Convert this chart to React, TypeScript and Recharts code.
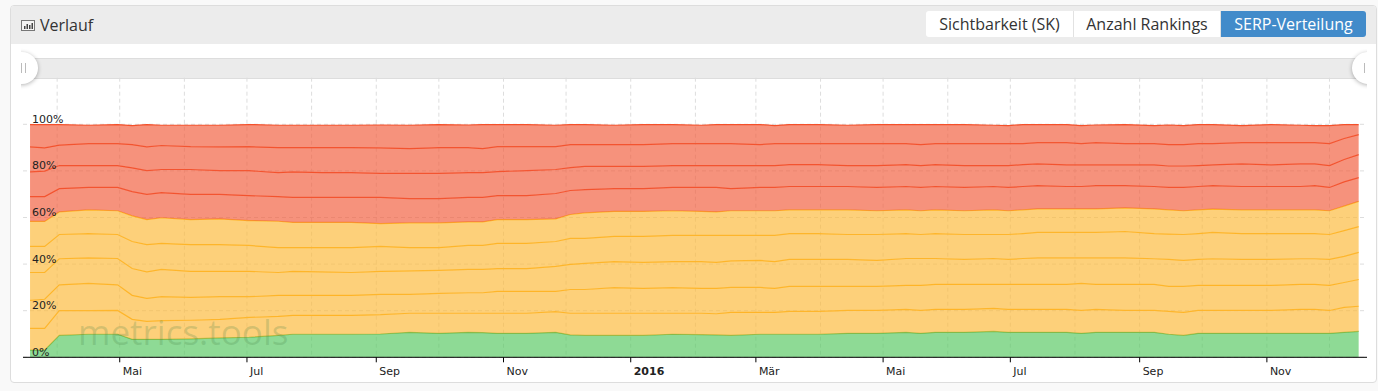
import { AreaChart, Area, XAxis, YAxis, CartesianGrid } from 'recharts';

const dates = [
  '2015-03-19', '2015-03-26', '2015-04-02', '2015-04-16', '2015-04-30', '2015-05-07', '2015-05-14', '2015-05-21',
  '2015-06-04', '2015-06-18', '2015-07-02', '2015-07-16', '2015-07-23', '2015-08-06', '2015-08-20', '2015-09-03',
  '2015-09-17', '2015-10-01', '2015-10-15', '2015-10-22', '2015-10-29', '2015-11-12', '2015-11-26', '2015-12-03',
  '2015-12-10', '2015-12-24', '2016-01-07', '2016-01-21', '2016-02-04', '2016-02-11', '2016-02-18', '2016-03-03',
  '2016-03-10', '2016-03-17', '2016-03-31', '2016-04-14', '2016-04-28', '2016-05-12', '2016-05-19', '2016-05-26',
  '2016-06-09', '2016-06-23', '2016-06-30', '2016-07-07', '2016-07-14', '2016-07-28', '2016-08-04', '2016-08-11',
  '2016-08-25', '2016-09-08', '2016-09-15', '2016-09-22', '2016-09-29', '2016-10-06', '2016-10-20', '2016-11-03',
  '2016-11-17', '2016-11-24', '2016-12-01', '2016-12-08', '2016-12-15',
];

// upper edge of each band, in percent
const edge1 = [
  3.1, 3.1, 9.4, 9.9, 9.9, 7.7, 7.7, 7.7, 7.9, 8.3, 8.6, 9.4, 9.9, 9.9, 9.9, 10,
  10.7, 10.3, 10.7, 10.6, 10.3, 10.3, 10.7, 9.6, 9.4, 9.4, 9.4, 9.9, 9.7, 9.6, 9.4, 9.9,
  9.9, 9.9, 9.9, 10.3, 10.3, 10.7, 10.3, 10.7, 10.7, 11.1, 10.7, 10.7, 10.7, 10.7, 10.3, 10.7,
  10.7, 10.7, 9.9, 9.4, 10.3, 10.3, 10.3, 10.3, 10.3, 10.3, 10.3, 10.7, 11.1,
];
const edge2 = [
  12.4, 12.4, 20, 20, 20.1, 16.3, 15.4, 15.7, 15.9, 16.3, 17.1, 17.6, 18, 18, 18, 18.3,
  18.9, 18.9, 18.9, 18.9, 18.9, 18.9, 19.6, 18.9, 18.9, 18.9, 18.9, 18.9, 18.9, 18.7, 19.3, 19.3,
  19.3, 19.7, 19.7, 20.1, 20.1, 20.6, 20.1, 20.6, 20.6, 21, 20.6, 20.6, 20.6, 20.6, 20.1, 20.6,
  20.1, 20.1, 19.7, 19.3, 20.1, 20.1, 20.1, 20.1, 20.6, 20.6, 20.1, 21.4, 21.9,
];
const edge3 = [
  24.4, 24.9, 31.1, 31.7, 31.1, 26.6, 25.3, 26, 25.7, 26, 26, 26.6, 26.6, 26.6, 26.6, 27,
  27, 27.4, 27.7, 27.7, 28.3, 28.3, 28.3, 29.1, 29.1, 29.9, 29.6, 29.9, 29.6, 29.6, 30, 30,
  29.6, 30.4, 30.4, 30.4, 30.4, 30.9, 30.9, 31.3, 31.3, 31.3, 31.3, 31.3, 31.3, 31.3, 31.7, 31.3,
  31.3, 31.3, 30.4, 30.4, 30.9, 30.9, 30.9, 30.9, 31.3, 31.3, 30.9, 32.1, 33.4,
];
const edge4 = [
  36.4, 36.4, 42.3, 42.7, 42.4, 38.1, 36.7, 37.7, 36.9, 36.9, 36.9, 36.4, 36.9, 36.7, 36.4, 36.9,
  37.1, 37.3, 37.7, 37.7, 38.1, 38.1, 39, 39.9, 40.3, 41.1, 40.7, 41.1, 41.1, 40.7, 41.4, 41.6,
  41.1, 42, 42, 42, 41.6, 42.4, 42.4, 42.4, 42, 42.4, 42, 42.4, 42.7, 42.7, 42.7, 42.7,
  42.7, 42.3, 42, 41.6, 42, 42.3, 42, 42, 42.3, 42.3, 42, 43.3, 45,
];
const edge5 = [
  47.6, 47.6, 52.7, 53.1, 52.7, 49.7, 48.4, 48.9, 48.4, 48.4, 48, 47.1, 47.1, 47.1, 47.1, 47.6,
  47.1, 47.1, 48, 48, 48.9, 48.9, 49.7, 51, 51, 51.9, 51.9, 52.3, 52.3, 52.3, 52.3, 52.3,
  52.3, 53.1, 53.1, 52.7, 52.7, 53.1, 52.7, 53.1, 52.7, 52.7, 52.7, 53.1, 53.6, 53.6, 53.6, 53.6,
  54, 53.1, 52.9, 52.7, 53.1, 53.6, 53.1, 53.1, 53.1, 53.1, 52.7, 54.4, 56.1,
];
const edge6 = [
  58.3, 58.3, 62.4, 63.3, 62.9, 60.7, 59.1, 59.9, 59.1, 59.4, 58.7, 58.4, 57.9, 57.9, 57.9, 57.4,
  57.7, 57.7, 58.1, 58.1, 59.1, 59.1, 59.4, 61.3, 62, 62.6, 62.6, 62.9, 62.6, 62.4, 62.9, 62.9,
  62.9, 63.3, 63.3, 63.3, 62.9, 63.3, 62.9, 63.3, 62.9, 63.3, 62.9, 63.3, 63.7, 63.7, 63.7, 63.7,
  64.1, 63.7, 63.3, 62.9, 63.3, 63.6, 63.3, 63.3, 63.3, 63.3, 62.9, 64.9, 66.9,
];
const edge7 = [
  69, 69, 72.4, 72.9, 72.9, 71.1, 69.9, 70.7, 69.9, 69.9, 69.4, 69, 68.6, 68.6, 68.6, 68.6,
  68.1, 68.1, 68.6, 68.6, 69.4, 69.4, 70.3, 71.6, 72, 72.4, 72.4, 72.9, 72.9, 72.9, 72.4, 72.9,
  72.9, 73.3, 73.3, 73.3, 72.9, 73.3, 72.9, 73.3, 72.9, 73.3, 72.9, 73.3, 73.7, 73.3, 73.3, 73.7,
  73.7, 73.3, 72.9, 72.9, 73.3, 73.7, 73.3, 73.3, 73.3, 73.7, 72.9, 75.3, 77.1,
];
const edge8 = [
  79.6, 79.9, 82.3, 82.3, 82.3, 81.3, 80.1, 80.6, 80.6, 80.1, 80.1, 79.3, 79.6, 79.3, 79.3, 78.9,
  78.9, 78.9, 79.3, 79.3, 79.7, 80.1, 80.6, 81.4, 81.9, 81.9, 81.9, 82.3, 82.3, 82.3, 82.3, 82.3,
  82.3, 82.7, 82.7, 82.3, 82.3, 82.7, 82.3, 82.7, 82.3, 82.3, 82.3, 82.7, 83, 82.6, 82.6, 82.6,
  82.6, 82.6, 82.1, 82.1, 82.3, 82.6, 83, 82.6, 83, 83, 82.3, 84.9, 87,
];
const edge9 = [
  90.3, 89.9, 91.1, 91.7, 91.7, 91.3, 90.3, 90.9, 90.4, 90.3, 90.4, 90, 90, 90, 90, 89.9,
  89.6, 90, 90, 89.6, 90.4, 90.4, 90.4, 91.3, 91.3, 91.3, 91.3, 91.7, 91.7, 91.7, 91.7, 91.3,
  91.7, 91.7, 91.7, 91.7, 91.7, 91.7, 91.3, 91.7, 91.7, 91.7, 91.7, 91.7, 92.1, 92.1, 91.7, 92.1,
  91.7, 91.7, 91.3, 91.3, 91.7, 91.7, 92.1, 92.1, 92.1, 92.1, 91.7, 93.9, 95.6,
];
const edge10 = [
  99.9, 99.9, 99.9, 99.6, 99.9, 99.4, 99.9, 99.6, 99.6, 99.6, 99.9, 99.6, 99.6, 99.6, 99.6, 99.7,
  99.6, 99.9, 99.7, 99.9, 99.9, 99.9, 99.6, 99.9, 99.9, 99.6, 99.9, 99.9, 99.6, 99.9, 99.9, 99.9,
  99.4, 99.9, 99.9, 99.6, 99.9, 99.9, 99.9, 99.9, 99.9, 99.6, 99.4, 99.9, 99.9, 99.9, 99.4, 99.7,
  99.9, 99.4, 99.7, 99.4, 99.9, 99.9, 99.4, 99.9, 99.6, 99.4, 99.4, 99.9, 99.9,
];

const edges = [edge1, edge2, edge3, edge4, edge5, edge6, edge7, edge8, edge9, edge10];
const bandColors = [
  '#58c963', '#fcb93b', '#fcb93b', '#fcb93b', '#fcb93b', '#fcb93b', '#f15e3e', '#f15e3e', '#f15e3e', '#f15e3e',
];
const lineColors = [
  '#6cba4c', '#ffb424', '#ffb424', '#ffb424', '#ffb424', '#ffb424', '#f4502a', '#f4502a', '#f4502a', '#f4502a',
];

const ms = (d: string) => Date.parse(d + 'T00:00:00Z');

const labelTicks = ['2015-05-01', '2015-07-01', '2015-09-01', '2015-11-01', '2016-01-01', '2016-03-01', '2016-05-01', '2016-07-01', '2016-09-01', '2016-11-01'];
const labelNames = ['Mai', 'Jul', 'Sep', 'Nov', '2016', 'Mär', 'Mai', 'Jul', 'Sep', 'Nov'];
const gridMonths = [
  '2015-04-01', '2015-05-01', '2015-06-01', '2015-07-01', '2015-08-01', '2015-09-01', '2015-10-01', '2015-11-01',
  '2015-12-01', '2016-01-01', '2016-02-01', '2016-03-01', '2016-04-01', '2016-05-01', '2016-06-01', '2016-07-01',
  '2016-08-01', '2016-09-01', '2016-10-01', '2016-11-01', '2016-12-01',
];
const percentTicks = [0, 20, 40, 60, 80, 100];

const rows = dates.map((d, i) => {
  const row: Record<string, number> = { t: ms(d) };
  edges.forEach((e, b) => {
    row['b' + b] = +(e[i] - (b > 0 ? edges[b - 1][i] : 0)).toFixed(1);
  });
  return row;
});

const axisFont = '"DejaVu Sans", sans-serif';

function XTick({ x, y, payload }: any) {
  const idx = labelTicks.findIndex((d) => ms(d) === payload.value);
  const name = labelNames[idx];
  return (
    <text x={x + 3} y={y + 11} fontFamily={axisFont} fontSize={11} fill="#222" fontWeight={name === '2016' ? 700 : 400}>
      {name}
    </text>
  );
}

function YTick({ y, payload }: any) {
  return (
    <text x={32} y={y - 1.5} fontFamily={axisFont} fontSize={11} fill="#222">
      {payload.value}%
    </text>
  );
}

function Tab({ label, w, active }: { label: string; w: number; active?: boolean }) {
  return (
    <div
      style={{
        width: w,
        height: 26,
        lineHeight: '26px',
        textAlign: 'center',
        boxSizing: 'border-box',
        background: active ? '#428bca' : '#fff',
        color: active ? '#fff' : '#333',
        borderRight: active ? 'none' : '1px solid #e2e2e2',
      }}
    >
      {label}
    </div>
  );
}

function Handle({ left, grip }: { left: number; grip: number }) {
  return (
    <>
      <div
        style={{
          position: 'absolute',
          left,
          top: 52,
          width: 32,
          height: 32,
          borderRadius: 16,
          background: '#fff',
          boxShadow: '0 1px 4px rgba(0,0,0,0.3)',
        }}
      />
      <div style={{ position: 'absolute', left: grip, top: 63, width: 3, height: 10, borderLeft: '1px solid #bbb', borderRight: '1px solid #bbb' }} />
    </>
  );
}

export default function App() {
  return (
    <div style={{ position: 'absolute', left: 0, top: 0, width: 1378, height: 391, background: '#f9f9f9', overflow: 'hidden', fontFamily: '"Open Sans", sans-serif' }}>
      <div style={{ position: 'absolute', left: 10, top: 5, width: 1367, height: 378, boxSizing: 'border-box', background: '#fff', border: '1px solid #ddd', borderRadius: 4 }} />
      <div style={{ position: 'absolute', left: 11, top: 6, width: 1365, height: 38, background: '#ececec', borderRadius: '3px 3px 0 0' }} />

      <svg style={{ position: 'absolute', left: 21, top: 20 }} width={14} height={12}>
        <rect x={0.5} y={0.5} width={13} height={10} fill="#f4f4f4" stroke="#777" />
        <rect x={3} y={6} width={1.5} height={3} fill="#444" />
        <rect x={5.5} y={4} width={1.5} height={5} fill="#444" />
        <rect x={8} y={5} width={1.5} height={4} fill="#444" />
        <rect x={10.5} y={3} width={1.5} height={6} fill="#444" />
      </svg>
      <div style={{ position: 'absolute', left: 40, top: 14, fontSize: 16, lineHeight: '22px', color: '#333' }}>Verlauf</div>

      <div style={{ position: 'absolute', left: 926, top: 11, display: 'flex', fontSize: 16, borderRadius: 3, overflow: 'hidden' }}>
        <Tab label="Sichtbarkeit (SK)" w={148} />
        <Tab label="Anzahl Rankings" w={147} />
        <Tab label="SERP-Verteilung" w={145} active />
      </div>

      <div style={{ position: 'absolute', left: 21, top: 48, width: 1346, height: 42, overflow: 'hidden' }}>
        <div style={{ position: 'absolute', left: 0, top: 10, width: 1346, height: 21, boxSizing: 'border-box', background: '#ebebeb', borderTop: '1px solid #ddd', borderBottom: '1px solid #ddd' }} />
        <div style={{ position: 'absolute', left: -21, top: -48, width: 1378, height: 391 }}>
          <Handle left={6} grip={21} />
          <Handle left={1352} grip={1364} />
        </div>
      </div>

      <div style={{ position: 'absolute', left: 0, top: 0 }}>
        <AreaChart
          width={1378}
          height={391}
          data={rows}
          margin={{ top: 77.7, right: 11, bottom: 3.7, left: 22 }}
          style={{ background: 'transparent' }}
        >
          <CartesianGrid
            stroke="#ddd"
            strokeDasharray="4 3"
            verticalValues={gridMonths.map(ms)}
            horizontalValues={percentTicks}
          />
          {edges.map((_, b) => (
            <Area
              key={b}
              dataKey={'b' + b}
              stackId="serp"
              type="linear"
              stroke={lineColors[b]}
              strokeWidth={1.2}
              fill={bandColors[b]}
              fillOpacity={0.68}
              dot={false}
              activeDot={false}
              isAnimationActive={false}
            />
          ))}
          <XAxis
            dataKey="t"
            type="number"
            domain={[Date.parse('2015-03-15T15:00:00Z'), Date.parse('2016-12-19T00:00:00Z')]}
            allowDataOverflow
            ticks={labelTicks.map(ms)}
            interval={0}
            height={30}
            tick={<XTick />}
            tickSize={5}
            tickLine={{ stroke: '#000' }}
            axisLine={{ stroke: '#000' }}
          />
          <YAxis
            type="number"
            domain={[0, 120]}
            allowDataOverflow
            ticks={percentTicks}
            interval={0}
            width={1}
            axisLine={false}
            tickLine={false}
            tick={<YTick />}
          />
        </AreaChart>
      </div>

      <div style={{ position: 'absolute', left: 78, top: 309, fontSize: 35, lineHeight: '46px', color: 'rgba(70,130,70,0.22)', pointerEvents: 'none' }}>
        metrics.tools
      </div>
    </div>
  );
}
